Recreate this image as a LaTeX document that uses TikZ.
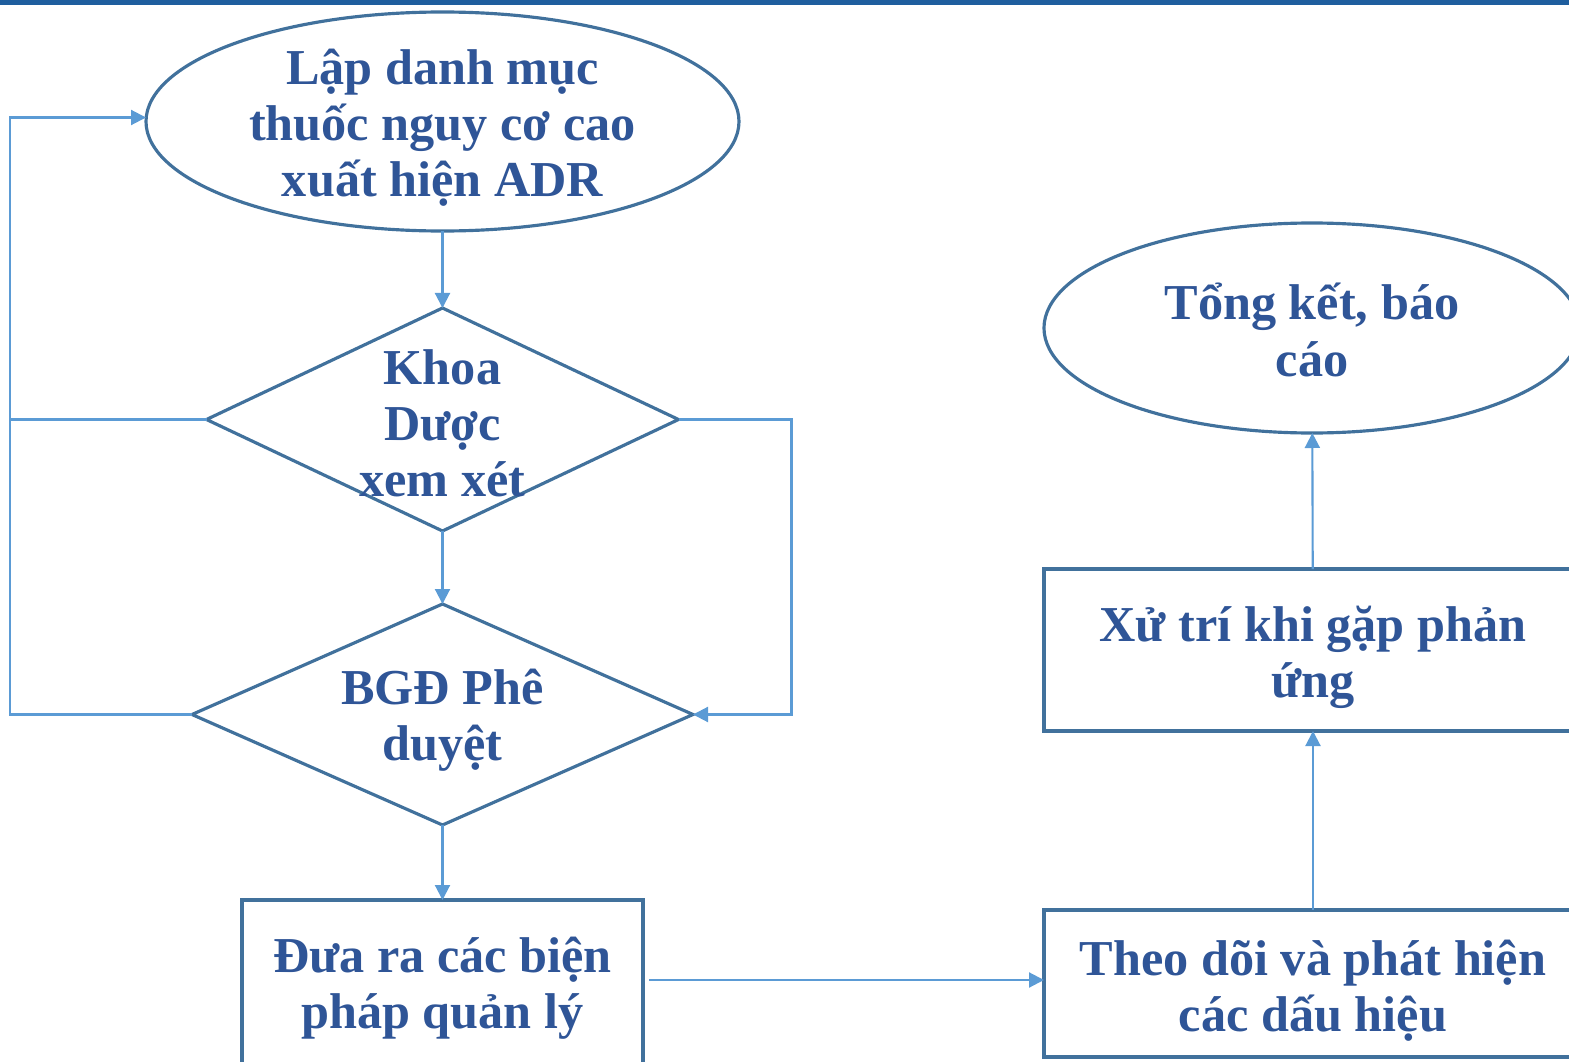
\documentclass[tikz,border=0pt]{standalone}
\usepackage{fontspec}
\setmainfont{Liberation Serif}
\usetikzlibrary{positioning,arrows.meta,shapes.geometric}
\definecolor{txtblue}{HTML}{2F5597}
\definecolor{edgeblue}{HTML}{41719C}
\definecolor{linkblue}{HTML}{5B9BD5}
\definecolor{barblue}{HTML}{1F5E9E}

\begin{document}
\begin{tikzpicture}[
  font=\fontsize{14.3}{16}\selectfont\bfseries,
  shapebase/.style={draw=edgeblue, line width=0.9pt, inner sep=0pt, outer sep=0pt},
  oval/.style={shapebase, ellipse},
  choice/.style={shapebase, diamond},
  box/.style={shapebase, rectangle},
  labeltxt/.style={align=center, text=txtblue, inner sep=0pt},
  arr/.style={-{Triangle[length=0.15cm, width=0.15cm]}, draw=linkblue, line width=0.6pt},
  link/.style={draw=linkblue, line width=0.6pt}
]
\useasboundingbox (0,0) rectangle (15.69,10.61);
\clip (0,0) rectangle (15.69,10.61);
% top bar
\fill[barblue] (0,10.56) rectangle (15.69,10.61);

% left column
\node[oval, minimum width=5.93cm, minimum height=2.19cm] (lap) at (4.425,9.395) {};
\node[labeltxt] (laptxt) at ([yshift=-0.06cm]lap) {Lập danh mục\\thuốc nguy cơ cao\\xuất hiện ADR};
\node[choice, minimum width=4.72cm, minimum height=2.23cm, below=0.77cm of lap] (khoa) {};
\node[labeltxt] (khoatxt) at ([yshift=-0.04cm]khoa) {Khoa\\Dược\\xem xét};
\node[choice, minimum width=5.01cm, minimum height=2.21cm, below=0.73cm of khoa] (bgd) {};
\node[labeltxt] (bgdtxt) at ([yshift=-0.06cm]bgd) {BGĐ Phê\\duyệt};
\node[box, minimum width=4.01cm, minimum height=1.68cm, below=0.75cm of bgd] (dua) {};
\node[labeltxt] (duatxt) at ([yshift=-0.04cm]dua) {Đưa ra các biện\\pháp quản lý};

% right column
\node[oval, minimum width=5.36cm, minimum height=2.10cm] (tong) at (13.12,7.33) {};
\node[labeltxt] (tongtxt) at ([yshift=-0.02cm]tong) {Tổng kết, báo\\cáo};
\node[box, minimum width=5.38cm, minimum height=1.62cm] (xu) at (13.13,4.11) {};
\node[labeltxt] (xutxt) at ([yshift=-0.07cm]xu) {Xử trí khi gặp phản\\ứng};
\node[box, minimum width=5.38cm, minimum height=1.47cm] (theo) at (13.13,0.775) {};
\node[labeltxt] (theotxt) at ([yshift=-0.07cm]theo) {Theo dõi và phát hiện\\các dấu hiệu};

% connectors
\draw[arr] (lap) -- (khoa);
\draw[arr] (khoa) -- (bgd);
\draw[arr] (bgd) -- (dua);
\draw[arr] ([xshift=0.06cm, yshift=0.04cm]dua.east) -- ([yshift=0.04cm]dua.east -| theo.west);
\draw[arr] (theo) -- (xu);
\draw[arr] (xu) -- (tong);

% feedback loops
\coordinate (loopL) at (0.10,0);
\draw[link] (khoa.west) -- (khoa.west -| loopL);
\draw[arr] (bgd.west) -| ([yshift=0.04cm]lap.west -| loopL) -- ([yshift=0.04cm]lap.west);
\draw[arr] (khoa.east) -- ++(1.13,0) |- (bgd.east);
\end{tikzpicture}
\end{document}
